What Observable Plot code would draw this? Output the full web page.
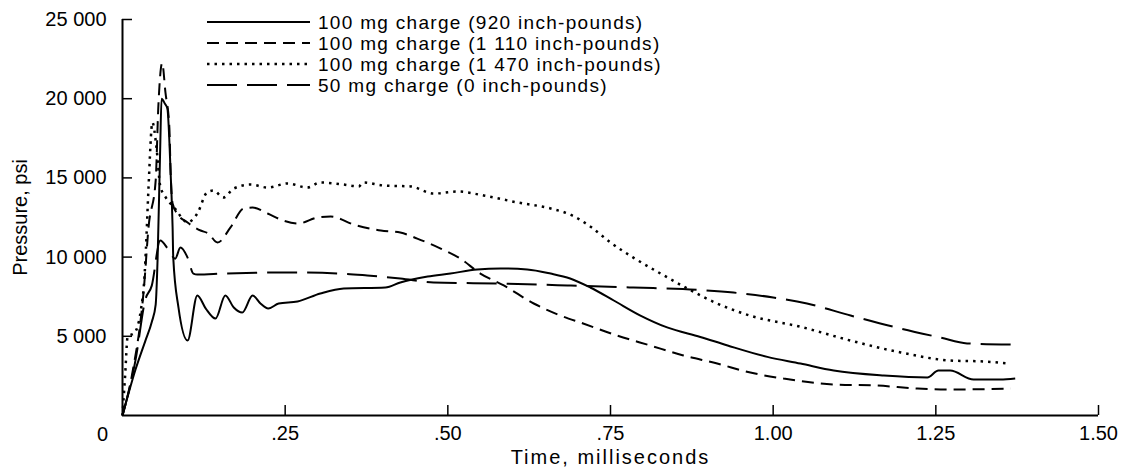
<!DOCTYPE html>
<html>
<head>
<meta charset="utf-8">
<script src="https://cdn.jsdelivr.net/npm/d3@7"></script>
<script src="https://cdn.jsdelivr.net/npm/@observablehq/plot@0.6"></script>
<style>
  html, body { margin: 0; padding: 0; background: #fff; }
  #wrap { position: relative; width: 1125px; height: 470px; font-family: "Liberation Sans", Arial, Helvetica, sans-serif; }
  #legend { position: absolute; left: 0; top: 0; pointer-events: none; }
</style>
</head>
<body>
<div id="wrap"></div>
<script>
// ---- Data (time in ms, pressure in psi) ----
const seriesNames = [
  "100 mg charge (920 inch-pounds)",
  "100 mg charge (1 110 inch-pounds)",
  "100 mg charge (1 470 inch-pounds)",
  "50 mg charge (0 inch-pounds)"
];

const t920 = [0,0.02,0.035,0.045,0.051,0.054,0.058,0.06,0.065,0.069,0.074,0.077,0.078,0.086,0.1,0.115,0.128,0.143,0.158,0.171,0.184,0.2,0.212,0.224,0.24,0.269,0.304,0.34,0.404,0.427,0.469,0.504,0.545,0.581,0.622,0.658,0.688,0.719,0.755,0.796,0.837,0.888,0.93,0.991,1.042,1.093,1.17,1.237,1.254,1.272,1.308,1.349,1.372];
const p920 = [0,2900,4700,5900,7000,9970,17000,20000,19700,19380,15280,11870,9970,6820,4730,7575,6750,6120,7575,6820,6500,7575,7070,6750,7070,7200,7700,8020,8080,8400,8770,8960,9220,9280,9220,8960,8650,8080,7260,6310,5560,4960,4420,3700,3280,2840,2525,2400,2840,2840,2270,2270,2330];

const t1110 = [0,0.015,0.033,0.04,0.051,0.055,0.061,0.066,0.072,0.074,0.077,0.084,0.1,0.12,0.132,0.146,0.166,0.186,0.2,0.223,0.247,0.27,0.3,0.32,0.355,0.397,0.427,0.453,0.489,0.519,0.55,0.586,0.632,0.673,0.708,0.76,0.811,0.862,0.914,0.965,1.016,1.093,1.16,1.222,1.272,1.365];
const p1110 = [0,2650,8080,11870,14840,19440,22250,20400,18200,15280,13380,12750,12180,11680,11490,10920,11870,13070,13130,12750,12310,12120,12500,12560,12060,11680,11550,11170,10540,9910,8960,8210,7070,6310,5810,5050,4420,3790,3280,2710,2330,1960,1890,1700,1640,1700];

const t1470 = [0,0.004,0.008,0.018,0.028,0.034,0.036,0.04,0.046,0.052,0.058,0.066,0.08,0.1,0.115,0.13,0.14,0.155,0.171,0.197,0.223,0.254,0.284,0.304,0.34,0.363,0.37,0.401,0.443,0.478,0.515,0.555,0.607,0.658,0.69,0.72,0.75,0.785,0.827,0.868,0.914,0.965,1.042,1.119,1.196,1.272,1.323,1.362];
const p1470 = [0,2500,5000,5200,6600,8900,10500,14400,18500,17000,14500,13800,13100,12200,12750,14080,14200,13760,14330,14580,14390,14650,14390,14710,14580,14460,14710,14520,14460,14010,14140,13890,13450,13070,12650,11900,10920,9970,8960,8020,7070,6300,5600,4730,3980,3470,3410,3280];

const t0 = [0,0.02,0.035,0.045,0.058,0.07,0.081,0.089,0.1,0.109,0.115,0.155,0.258,0.335,0.376,0.427,0.478,0.581,0.684,0.785,0.888,0.939,1.0,1.052,1.119,1.196,1.257,1.298,1.365];
const p0 = [0,3500,7300,8200,11050,10500,9900,10600,9970,8960,8900,8960,9030,8960,8840,8650,8400,8330,8210,8080,7920,7760,7450,7070,6310,5490,4920,4550,4480];

const xTicks = [0.25, 0.5, 0.75, 1.0, 1.25, 1.5];
const xTickLabels = [".25", ".50", ".75", "1.00", "1.25", "1.50"];
const yTicks = [5000, 10000, 15000, 20000, 25000];
const yTickLabels = ["5 000", "10 000", "15 000", "20 000", "25 000"];

// ---- styles ----
const dashes = ["none", "12,7", "2.5,5", "30,10"];
const widths = [2, 2, 2.5, 2];

const seriesTimes = [t920, t1110, t1470, t0];
const seriesVals = [p920, p1110, p1470, p0];
const tables = seriesTimes.map((ts, i) => ts.map((t, j) => ({t, p: seriesVals[i][j]})));

const FONT = '"Liberation Sans", Arial, Helvetica, sans-serif';

const chart = Plot.plot({
  width: 1125,
  height: 470,
  marginLeft: 122,
  marginRight: 27,
  marginTop: 19,
  marginBottom: 55,
  style: {fontFamily: FONT, fontSize: "20px", color: "#000", background: "#fff"},
  x: {domain: [0, 1.5]},
  y: {domain: [0, 25000]},
  marks: [
    Plot.axisX({
      ticks: xTicks,
      tickFormat: (d) => xTickLabels[xTicks.indexOf(d)],
      tickSize: -10,
      tickPadding: 20,
      strokeWidth: 1.5,
      label: "Time, milliseconds",
      labelAnchor: "center",
      labelArrow: "none",
      labelOffset: 48,
      fontSize: "20px"
    }),
    Plot.axisY({
      ticks: yTicks,
      tickFormat: (d) => yTickLabels[yTicks.indexOf(d)],
      tickSize: -10,
      tickPadding: 26,
      strokeWidth: 1.5,
      label: "Pressure, psi",
      labelAnchor: "center",
      labelOffset: 110,
      labelArrow: "none",
      fontSize: "20px"
    }),
    Plot.text([0], {x: 0, y: 0, text: () => "0", dx: -20, dy: 19, fontSize: 20}),
    Plot.ruleX([0], {strokeWidth: 2}),
    Plot.ruleY([0], {strokeWidth: 2}),
    ...tables.map((data, i) => Plot.line(data, {
      x: "t", y: "p",
      curve: "monotone-x",
      stroke: "#000",
      strokeWidth: widths[i],
      strokeDasharray: dashes[i] === "none" ? undefined : dashes[i],
      strokeLinecap: "butt"
    }))
  ]
});

const wrap = document.getElementById("wrap");
wrap.appendChild(chart);

chart.querySelectorAll("text").forEach((el) => {
  if (el.textContent.startsWith("Time")) { el.setAttribute("letter-spacing", "2"); }
});

// ---- legend overlay ----
const NS = "http://www.w3.org/2000/svg";
const leg = document.createElementNS(NS, "svg");
leg.setAttribute("id", "legend");
leg.setAttribute("width", 700);
leg.setAttribute("height", 100);
const rowY = [22, 43, 64, 85];
seriesNames.forEach((name, i) => {
  const ln = document.createElementNS(NS, "line");
  ln.setAttribute("x1", 207); ln.setAttribute("x2", 310);
  ln.setAttribute("y1", rowY[i]); ln.setAttribute("y2", rowY[i]);
  ln.setAttribute("stroke", "#000");
  ln.setAttribute("stroke-width", widths[i]);
  if (dashes[i] !== "none") ln.setAttribute("stroke-dasharray", dashes[i]);
  leg.appendChild(ln);
  const tx = document.createElementNS(NS, "text");
  tx.setAttribute("x", 318); tx.setAttribute("y", rowY[i]);
  tx.setAttribute("dy", "0.35em");
  tx.setAttribute("font-family", FONT);
  tx.setAttribute("font-size", "19");
  tx.setAttribute("letter-spacing", "1.3");
  tx.textContent = name;
  leg.appendChild(tx);
});
wrap.appendChild(leg);
</script>
</body>
</html>
